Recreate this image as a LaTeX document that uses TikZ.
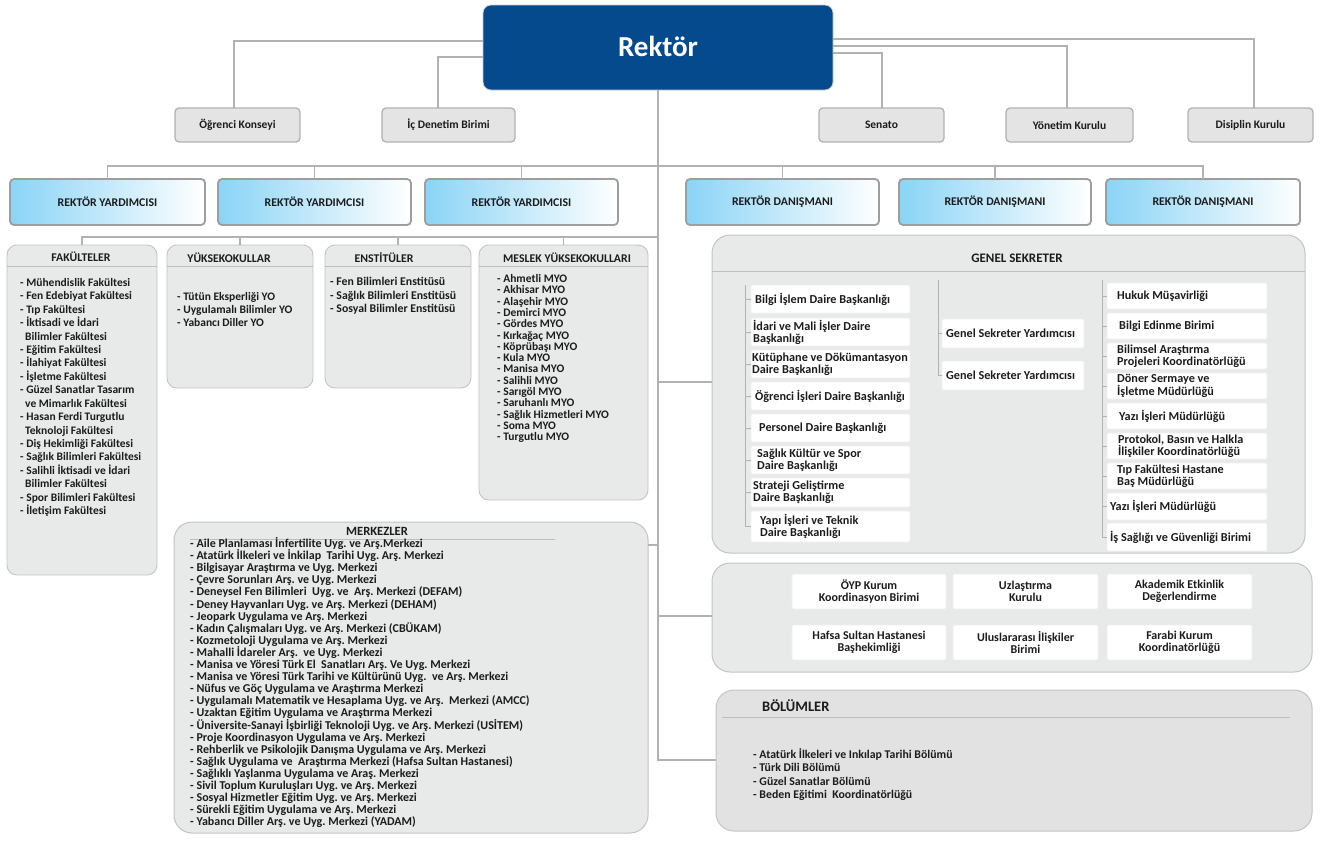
\documentclass[tikz,border=0pt]{standalone}
\usepackage{fontspec}
\setmainfont{Carlito}
\frenchspacing
\definecolor{rekblue}{RGB}{4,74,141}
\definecolor{lnc}{RGB}{178,178,178}
\definecolor{txt}{RGB}{28,28,28}
\definecolor{boxfill}{RGB}{232,233,233}
\definecolor{boxdraw}{RGB}{196,196,196}
\definecolor{topfill}{RGB}{228,228,228}
\definecolor{topdraw}{RGB}{178,178,178}
\definecolor{skyL}{RGB}{138,212,246}
\definecolor{grdraw}{RGB}{158,158,158}
\definecolor{bolfill}{RGB}{226,226,226}
\definecolor{sepc}{RGB}{190,190,190}
\tikzset{
  conn/.style={draw=lnc, line width=1.3pt},
  treeln/.style={draw=lnc, line width=0.8pt},
  sepln/.style={draw=sepc, line width=0.8pt},
  boxbase/.style={anchor=north west, inner sep=0pt, outer sep=0pt, text=txt},
  topbox/.style={boxbase, draw=topdraw, fill=topfill, line width=1.3pt, rounded corners=4pt, font=\fontsize{11.5}{13}\selectfont\bfseries},
  gradbox/.style={boxbase, draw=grdraw, line width=1.8pt, rounded corners=4pt, left color=skyL, right color=white, font=\fontsize{11.8}{13}\selectfont\bfseries},
  listbox/.style={boxbase, draw=boxdraw, fill=boxfill, line width=0.9pt, rounded corners=10pt},
  bigbox/.style={boxbase, draw=boxdraw, fill=boxfill, line width=1pt, rounded corners=18pt},
  hdr/.style={inner sep=0pt, text=txt, font=\fontsize{11.8}{13}\selectfont\bfseries},
  litem/.style={anchor=base west, inner sep=0pt, text=txt, font=\fontsize{11.5}{13}\selectfont\bfseries},
  whitebox/.style={boxbase, fill=white, draw=gray!12, line width=0.6pt, rounded corners=2pt},
  gstxt/.style={anchor=west, inner sep=0pt, align=left, text=txt, font=\fontsize{12.2}{12}\selectfont\bfseries},
  oyptxt/.style={align=center, font=\fontsize{12}{12}\selectfont\bfseries},
}
\newcommand\bx[7]{\node[#1,minimum width={#5-#3},minimum height={#6-#4}] (#2) at (#3,#4) {#7};}
\newcommand\gsitem[7]{\node[whitebox,minimum width={#4-#2},minimum height={#5-#3}] (#1) at (#2,#3) {};
  \node[gstxt] (#1t) at ([xshift=#6pt]#1.west) {#7};}
\begin{document}
\begin{tikzpicture}[x=1pt,y=-1pt]
\useasboundingbox (0,0) rectangle (1321,841);
\fill[white] (0,0) rectangle (1321,841);

% ---------- Rektor
\node[boxbase, fill=rekblue, draw=gray!40, line width=0.8pt, rounded corners=8pt,
  minimum width=350, minimum height=85, text=white, font=\fontsize{29}{32}\selectfont\bfseries] (rek) at (483,5) {\raisebox{1.5pt}{Rektör}};

% ---------- top row
\bx{topbox}{ogr}{175}{108}{300}{142}{Öğrenci Konseyi}
\bx{topbox}{ic}{382}{108}{515}{142}{İç Denetim Birimi}
\bx{topbox}{sen}{819}{108}{944}{142}{Senato}
\bx{topbox}{yon}{1006}{108}{1133}{142}{Yönetim Kurulu}
\bx{topbox}{dis}{1188}{108}{1313}{142}{Disiplin Kurulu}

% ---------- second row
\bx{gradbox}{ry1}{10}{179}{205}{225}{REKTÖR YARDIMCISI}
\bx{gradbox}{ry2}{218}{179}{411}{225}{REKTÖR YARDIMCISI}
\bx{gradbox}{ry3}{425}{179}{618}{225}{REKTÖR YARDIMCISI}
\bx{gradbox}{rd1}{686}{179}{879}{225}{REKTÖR DANIŞMANI}
\bx{gradbox}{rd2}{899}{179}{1091}{225}{REKTÖR DANIŞMANI}
\bx{gradbox}{rd3}{1106}{179}{1300}{225}{REKTÖR DANIŞMANI}

% ---------- list boxes
\bx{listbox}{fak}{7}{245}{157}{575}{}
\bx{listbox}{yo}{167}{245}{313}{388}{}
\bx{listbox}{ens}{325}{245}{471}{388}{}
\bx{listbox}{myo}{479}{245}{648}{500}{}
\bx{bigbox}{merk}{174}{522}{648}{833}{}

\node[hdr] (fakh) at (81,257) {FAKÜLTELER};
\node[hdr] (yoh) at (229,258) {YÜKSEKOKULLAR};
\node[hdr] (ensh) at (384,258) {ENSTİTÜLER};
\node[hdr] (myoh) at (567,258) {MESLEK YÜKSEKOKULLARI};
\node[hdr, font=\fontsize{12.6}{14}\selectfont\bfseries] (merkh) at (377,531) {MERKEZLER};
\draw[sepln] (fak.west |- 0,266) -- (fak.east |- 0,266);
\draw[sepln] (yo.west |- 0,266) -- (yo.east |- 0,266);
\draw[sepln] (ens.west |- 0,266) -- (ens.east |- 0,266);
\draw[sepln] (myo.west |- 0,266) -- (myo.east |- 0,266);
\draw[sepln] (190,539) -- (555,539);

\foreach \t [count=\i] in {{- Mühendislik Fakültesi},{- Fen Edebiyat Fakültesi},{- Tıp Fakültesi},
  {- İktisadi ve İdari},{\hspace*{5pt}Bilimler Fakültesi},{- Eğitim Fakültesi},{- İlahiyat Fakültesi},
  {- İşletme Fakültesi},{- Güzel Sanatlar Tasarım},{\hspace*{5pt}ve Mimarlık Fakültesi},
  {- Hasan Ferdi Turgutlu},{\hspace*{5pt}Teknoloji Fakültesi},{- Diş Hekimliği Fakültesi},
  {- Sağlık Bilimleri Fakültesi},{- Salihli İktisadi ve İdari},{\hspace*{5pt}Bilimler Fakültesi},
  {- Spor Bilimleri Fakültesi},{- İletişim Fakültesi}}
  \node[litem] (fak\i) at (20,{286.5+13.41*(\i-1)}) {\t};

\foreach \t [count=\i] in {{- Tütün Eksperliği YO},{- Uygulamalı Bilimler YO},{- Yabancı Diller YO}}
  \node[litem] (yo\i) at (177,{300+13*(\i-1)}) {\t};

\foreach \t [count=\i] in {{- Fen Bilimleri Enstitüsü},{- Sağlık Bilimleri Enstitüsü},{- Sosyal Bilimler Enstitüsü}}
  \node[litem, font=\fontsize{11.8}{13}\selectfont\bfseries] (ens\i) at (330,{285.5+13.5*(\i-1)}) {\t};

\foreach \t [count=\i] in {{- Ahmetli MYO},{- Akhisar MYO},{- Alaşehir MYO},{- Demirci MYO},{- Gördes MYO},
  {- Kırkağaç MYO},{- Köprübaşı MYO},{- Kula MYO},{- Manisa MYO},{- Salihli MYO},{- Sarıgöl MYO},
  {- Saruhanlı MYO},{- Sağlık Hizmetleri MYO},{- Soma MYO},{- Turgutlu MYO}}
  \node[litem] (myo\i) at (497,{282.5+11.3*(\i-1)}) {\t};

\foreach \t [count=\i] in {
  {- Aile Planlaması İnfertilite Uyg. ve Arş.Merkezi},
  {- Atatürk İlkeleri ve İnkilap \ Tarihi Uyg. Arş. Merkezi},
  {- Bilgisayar Araştırma ve Uyg. Merkezi},
  {- Çevre Sorunları Arş. ve Uyg. Merkezi},
  {- Deneysel Fen Bilimleri \ Uyg. ve \ Arş. Merkezi (DEFAM)},
  {- Deney Hayvanları Uyg. ve Arş. Merkezi (DEHAM)},
  {- Jeopark Uygulama ve Arş. Merkezi},
  {- Kadın Çalışmaları Uyg. ve Arş. Merkezi (CBÜKAM)},
  {- Kozmetoloji Uygulama ve Arş. Merkezi},
  {- Mahalli İdareler Arş. \ ve Uyg. Merkezi},
  {- Manisa ve Yöresi Türk El \ Sanatları Arş. Ve Uyg. Merkezi},
  {- Manisa ve Yöresi Türk Tarihi ve Kültürünü Uyg. \ ve Arş. Merkezi},
  {- Nüfus ve Göç Uygulama ve Araştırma Merkezi},
  {- Uygulamalı Matematik ve Hesaplama Uyg. ve Arş. \ Merkezi (AMCC)},
  {- Uzaktan Eğitim Uygulama ve Araştırma Merkezi},
  {- Üniversite-Sanayi İşbirliği Teknoloji Uyg. ve Arş. Merkezi (USİTEM)},
  {- Proje Koordinasyon Uygulama ve Arş. Merkezi},
  {- Rehberlik ve Psikolojik Danışma Uygulama ve Arş. Merkezi},
  {- Sağlık Uygulama ve \ Araştırma Merkezi (Hafsa Sultan Hastanesi)},
  {- Sağlıklı Yaşlanma Uygulama ve Araş. Merkezi},
  {- Sivil Toplum Kuruluşları Uyg. ve Arş. Merkezi},
  {- Sosyal Hizmetler Eğitim Uyg. ve Arş. Merkezi},
  {- Sürekli Eğitim Uygulama ve Arş. Merkezi},
  {- Yabancı Diller Arş. ve Uyg. Merkezi (YADAM)}}
  \node[litem, font=\fontsize{12}{13}\selectfont\bfseries] (mk\i) at (190,{547.5+12.1*(\i-1)}) {\t};

% ---------- Genel Sekreter
\bx{bigbox}{gs}{712}{235}{1305}{553}{}
\node[hdr, font=\fontsize{13}{14}\selectfont\bfseries] (gsh) at (1017,258) {GENEL SEKRETER};
\draw[sepln] (gs.west |- 0,271) -- (gs.east |- 0,271);

\gsitem{gl1}{751}{285}{910}{313}{4}{Bilgi İşlem Daire Başkanlığı}
\gsitem{gl2}{751}{318}{910}{346}{2}{İdari ve Mali İşler Daire\\Başkanlığı}
\gsitem{gl3}{751}{350}{910}{378}{1}{Kütüphane ve Dökümantasyon\\Daire Başkanlığı}
\gsitem{gl4}{751}{382}{910}{410}{4}{Öğrenci İşleri Daire Başkanlığı}
\gsitem{gl5}{751}{414}{910}{442}{8}{Personel Daire Başkanlığı}
\gsitem{gl6}{751}{446}{910}{474}{6}{Sağlık Kültür ve Spor\\Daire Başkanlığı}
\gsitem{gl7}{751}{478}{910}{507}{2}{Strateji Geliştirme\\Daire Başkanlığı}
\gsitem{gl8}{751}{511}{910}{542}{9}{Yapı İşleri ve Teknik\\Daire Başkanlığı}

\gsitem{gm1}{942}{319}{1084}{348}{4}{Genel Sekreter Yardımcısı}
\gsitem{gm2}{942}{361}{1084}{390}{4}{Genel Sekreter Yardımcısı}

\gsitem{gr1}{1107}{283}{1267}{309}{10}{Hukuk Müşavirliği}
\gsitem{gr2}{1107}{313}{1267}{339}{12}{Bilgi Edinme Birimi}
\gsitem{gr3}{1107}{343}{1267}{369}{10}{Bilimsel Araştırma\\Projeleri Koordinatörlüğü}
\gsitem{gr4}{1107}{373}{1267}{399}{10}{Döner Sermaye ve\\İşletme Müdürlüğü}
\gsitem{gr5}{1107}{403}{1267}{429}{12}{Yazı İşleri Müdürlüğü}
\gsitem{gr6}{1107}{433}{1267}{459}{11}{Protokol, Basın ve Halkla\\İlişkiler Koordinatörlüğü}
\gsitem{gr7}{1107}{463}{1267}{489}{10}{Tıp Fakültesi Hastane\\Baş Müdürlüğü}
\gsitem{gr8}{1107}{493}{1267}{520}{3}{Yazı İşleri Müdürlüğü}
\gsitem{gr9}{1107}{523}{1267}{551}{3}{İş Sağlığı ve Güvenliği Birimi}

\draw[treeln] (745,285) |- (gl8.west);
\foreach \k in {1,...,7} \draw[treeln] (745,0 |- gl\k.west) -- (gl\k.west);
\draw[treeln] (938,280) |- (gm2.west);
\draw[treeln] (938,0 |- gm1.west) -- (gm1.west);
\draw[treeln] (1102,280) |- (gr9.west);
\foreach \k in {1,...,8} \draw[treeln] (1102,0 |- gr\k.west) -- (gr\k.west);

% ---------- units box
\bx{bigbox}{oyp}{712}{563}{1312}{672}{}
\bx{whitebox,oyptxt}{u1}{792}{574}{946}{609}{ÖYP Kurum\\Koordinasyon Birimi}
\bx{whitebox,oyptxt}{u2}{953}{574}{1098}{609}{Uzlaştırma\\Kurulu}
\bx{whitebox,oyptxt}{u3}{1107}{574}{1252}{609}{Akademik Etkinlik\\Değerlendirme}
\bx{whitebox,oyptxt}{u4}{792}{625}{946}{660}{Hafsa Sultan Hastanesi\\Başhekimliği}
\bx{whitebox,oyptxt}{u5}{953}{625}{1098}{660}{Uluslararası İlişkiler\\Birimi}
\bx{whitebox,oyptxt}{u6}{1107}{625}{1252}{660}{Farabi Kurum\\Koordinatörlüğü}

% ---------- Bolumler
\bx{bigbox,fill=bolfill}{bol}{716}{690}{1312}{831}{}
\node[hdr, anchor=west, font=\fontsize{14.5}{16}\selectfont\bfseries] (bolh) at (762,706) {BÖLÜMLER};
\draw[sepln] (722,717) -- (1290,717);
\foreach \t [count=\i] in {{- Atatürk İlkeleri ve Inkılap Tarihi Bölümü},{- Türk Dili Bölümü},
  {- Güzel Sanatlar Bölümü},{- Beden Eğitimi \ Koordinatörlüğü}}
  \node[litem, font=\fontsize{11.8}{13}\selectfont\bfseries] (bl\i) at (753,{758.5+13.3*(\i-1)}) {\t};

% ---------- connectors
\draw[conn] (rek.west |- 0,41) -| (234,0 |- ogr.north);
\draw[conn] (rek.west |- 0,57) -| (438,0 |- ic.north);
\draw[conn] (rek.east |- 0,39) -| (1254,0 |- dis.north);
\draw[conn] (rek.east |- 0,46) -| (1067,0 |- yon.north);
\draw[conn] (rek.east |- 0,53) -| (882,0 |- sen.north);

\draw[conn] (rek.south) -- (rek.south |- 0,760) -- (bol.west |- 0,760);
\draw[conn] (ry1.north) -- (ry1.north |- 0,166) -- (rd3.north |- 0,166) -- (rd3.north);
\foreach \b in {ry2,ry3,rd1,rd2} \draw[conn] (\b.north) -- (\b.north |- 0,166);
\draw[conn] (fak.north) -- (fak.north |- 0,237) -- (rek.south |- 0,237);
\foreach \b in {yo,ens,myo} \draw[conn] (\b.north) -- (\b.north |- 0,237);
\draw[conn] (rek.south |- 0,382) -- (gs.west |- 0,382);
\draw[conn] (rek.south |- 0,545) -- (merk.east |- 0,545);
\draw[conn] (rek.south |- 0,616) -- (oyp.west |- 0,616);
\end{tikzpicture}
\end{document}
